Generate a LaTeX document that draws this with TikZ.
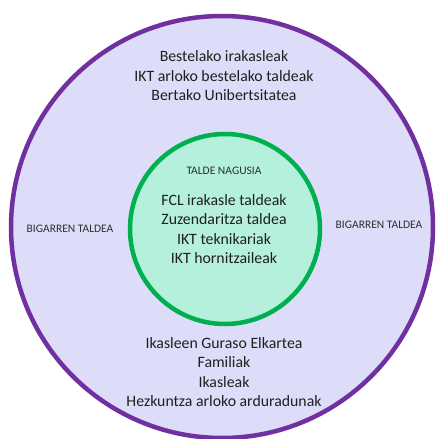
\documentclass[tikz,border=0pt]{standalone}
\usepackage{fontspec}
\setmainfont{Carlito}
\definecolor{lavender}{RGB}{221,221,249}
\definecolor{ringpurple}{RGB}{112,48,160}
\definecolor{mint}{RGB}{180,240,220}
\definecolor{ringgreen}{RGB}{0,176,80}
\tikzset{
  grouptext/.style={align=center,font=\fontsize{15.8}{19.5}\selectfont,text=black!88},
  smallcaps/.style={font=\fontsize{11.5}{13}\selectfont,text=black!82}
}
\begin{document}
\begin{tikzpicture}[x=1pt,y=-1pt]
  \useasboundingbox[fill=white] (0,0) rectangle (439,439);
  % outer ring
  \draw[ringpurple,line width=4.5pt,fill=lavender] (222,227) circle (211);
  % inner ring
  \draw[ringgreen,line width=4.5pt,fill=mint] (225,229) circle (95);
  \node[grouptext] (upper) at (224,76) {Bestelako irakasleak\\IKT arloko bestelako taldeak\\Bertako Unibertsitatea};
  \node[smallcaps] (maintitle) at (224,171) {TALDE NAGUSIA};
  \node[grouptext] (core) at (224,229) {FCL irakasle taldeak\\Zuzendaritza taldea\\IKT teknikariak\\IKT hornitzaileak};
  \node[smallcaps] (leftlabel) at (70,229) {BIGARREN TALDEA};
  \node[smallcaps] (rightlabel) at (379,225) {BIGARREN TALDEA};
  \node[grouptext] (lower) at (224,372) {Ikasleen Guraso Elkartea\\Familiak\\Ikasleak\\Hezkuntza arloko arduradunak};
\end{tikzpicture}
\end{document}
